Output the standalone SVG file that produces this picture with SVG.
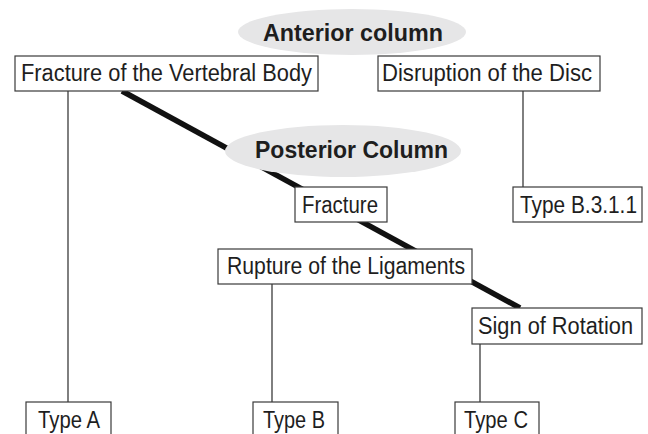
<svg xmlns="http://www.w3.org/2000/svg" width="648" height="434" viewBox="0 0 648 434">
  <style>
    .box { fill: #ffffff; stroke: #3a3a3a; stroke-width: 1.2; }
    .lbl { font-family: "Liberation Sans", Arial, sans-serif; font-size: 23px; fill: #1e1e1e; }
    .hdr { font-family: "Liberation Sans", Arial, sans-serif; font-size: 23px; font-weight: bold; fill: #1e1e1e; }
    .oval { fill: #e6e6e7; stroke: none; }
    .thin { stroke: #2a2a2a; stroke-width: 1.2; fill: none; }
    .thick { stroke: #111111; stroke-width: 5.5; fill: none; }
  </style>
  <rect width="648" height="434" fill="#ffffff"/>

  <g id="connectors">
    <line class="thick" x1="122" y1="91" x2="520" y2="308"/>
    <line class="thin" x1="68" y1="91" x2="68" y2="402"/>
    <line class="thin" x1="523" y1="91" x2="523" y2="187"/>
    <line class="thin" x1="272" y1="284" x2="272" y2="402"/>
    <line class="thin" x1="480" y1="344" x2="480" y2="402"/>
  </g>

  <g id="anterior-column">
    <ellipse class="oval" cx="352" cy="32" rx="114" ry="23"/>
    <text class="hdr" x="263" y="41" textLength="180" lengthAdjust="spacingAndGlyphs">Anterior column</text>
  </g>

  <g id="posterior-column">
    <ellipse class="oval" cx="343" cy="151" rx="118" ry="26"/>
    <text class="hdr" x="255" y="158" textLength="193" lengthAdjust="spacingAndGlyphs">Posterior Column</text>
  </g>

  <g id="fracture-vertebral-body">
    <rect class="box" x="15" y="56" width="303" height="35"/>
    <text class="lbl" x="21" y="81" textLength="291" lengthAdjust="spacingAndGlyphs">Fracture of the Vertebral Body</text>
  </g>

  <g id="disruption-disc">
    <rect class="box" x="378" y="56" width="222" height="35"/>
    <text class="lbl" x="382" y="81" textLength="210" lengthAdjust="spacingAndGlyphs">Disruption of the Disc</text>
  </g>

  <g id="type-b311">
    <rect class="box" x="513" y="187" width="129" height="35"/>
    <text class="lbl" x="520" y="213" textLength="117" lengthAdjust="spacingAndGlyphs">Type B.3.1.1</text>
  </g>

  <g id="fracture">
    <rect class="box" x="295" y="187" width="92" height="35"/>
    <text class="lbl" x="302" y="213" textLength="76" lengthAdjust="spacingAndGlyphs">Fracture</text>
  </g>

  <g id="rupture-ligaments">
    <rect class="box" x="218" y="249" width="254" height="35"/>
    <text class="lbl" x="227" y="274" textLength="238" lengthAdjust="spacingAndGlyphs">Rupture of the Ligaments</text>
  </g>

  <g id="sign-rotation">
    <rect class="box" x="472" y="308" width="170" height="36"/>
    <text class="lbl" x="478" y="334" textLength="155" lengthAdjust="spacingAndGlyphs">Sign of Rotation</text>
  </g>

  <g id="type-a">
    <rect class="box" x="26" y="402" width="85" height="40"/>
    <text class="lbl" x="38" y="428" textLength="62" lengthAdjust="spacingAndGlyphs">Type A</text>
  </g>

  <g id="type-b">
    <rect class="box" x="253" y="402" width="85" height="40"/>
    <text class="lbl" x="263" y="428" textLength="62" lengthAdjust="spacingAndGlyphs">Type B</text>
  </g>

  <g id="type-c">
    <rect class="box" x="455" y="402" width="84" height="40"/>
    <text class="lbl" x="464" y="428" textLength="64" lengthAdjust="spacingAndGlyphs">Type C</text>
  </g>
</svg>
